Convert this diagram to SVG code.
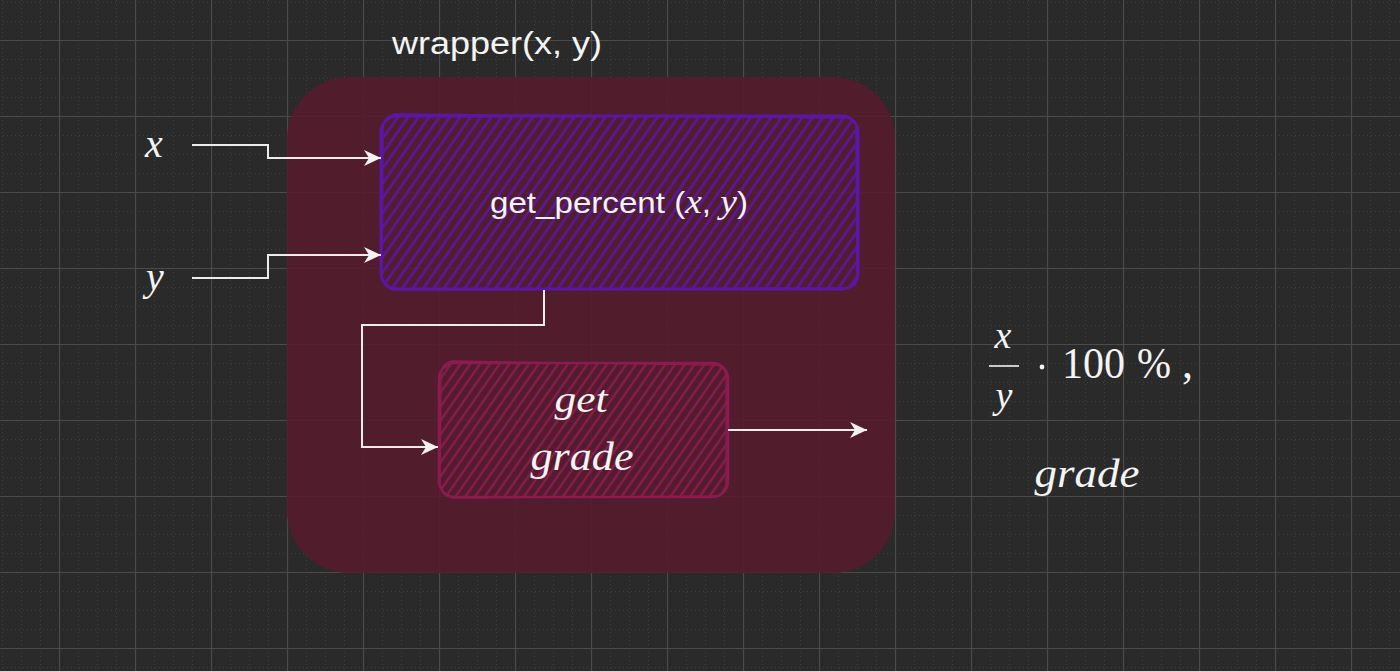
<svg xmlns="http://www.w3.org/2000/svg" width="1400" height="671" viewBox="0 0 1400 671">
  <defs>
    <pattern id="grid" x="59" y="40" width="76" height="76" patternUnits="userSpaceOnUse">
      <g stroke="#3f3f3f" stroke-width="1" stroke-dasharray="1 3" fill="none">
        <path d="M19.5,0 V76 M38.5,0 V76 M57.5,0 V76 M0,19.5 H76 M0,38.5 H76 M0,57.5 H76"/>
      </g>
      <path d="M0.5,0 V76 M0,0.5 H76" stroke="#4b4b4b" stroke-width="1.2" fill="none"/>
    </pattern>
    <pattern id="hatchPurple" width="8.5" height="8.5" patternUnits="userSpaceOnUse" patternTransform="rotate(35)">
      <line x1="2" y1="0" x2="2" y2="8.5" stroke="#5a16a3" stroke-width="2.6"/>
    </pattern>
    <pattern id="hatchCrimson" width="8" height="8" patternUnits="userSpaceOnUse" patternTransform="rotate(35)">
      <line x1="2" y1="0" x2="2" y2="8" stroke="#8a1a4f" stroke-width="2.4"/>
    </pattern>
    <marker id="arrow" markerUnits="userSpaceOnUse" markerWidth="20" markerHeight="18" refX="17" refY="8" orient="auto">
      <path d="M0,0 L17,8 L0,16 L5,8 Z" fill="#f2f2f2"/>
    </marker>
    <style>
      .conn { fill: none; stroke: #ececec; stroke-width: 2; }
      .sans { font-family: "Liberation Sans", Arial, sans-serif; fill: #f4f4f4; }
      .math { font-family: "Liberation Serif", "Times New Roman", serif; font-style: italic; fill: #f4f4f4; }
      .num { font-family: "Liberation Serif", "Times New Roman", serif; fill: #f4f4f4; }
    </style>
  </defs>

  <rect x="0" y="0" width="1400" height="671" fill="#2a2a2a"/>
  <rect x="0" y="0" width="1400" height="671" fill="url(#grid)"/>

  <g id="wrapper">
    <rect x="287" y="77" width="608" height="496" rx="62" ry="62" fill="#561a2b" fill-opacity="0.88"/>
    <text class="sans" x="497" y="54" font-size="31" text-anchor="middle" textLength="210" lengthAdjust="spacingAndGlyphs">wrapper(x, y)</text>
  </g>

  <g id="get_percent">
    <rect x="381" y="116" width="477" height="173" rx="16" ry="16" fill="url(#hatchPurple)"/>
    <rect x="381" y="116" width="477" height="173" rx="16" ry="16" fill="none" stroke="#5a17a6" stroke-width="3"/>
    <path d="M395,114 Q384,116 383,128 L382,276 Q384,290 396,290 L846,288 Q859,287 857,274 L856,128 Q856,117 844,118 L395,114" fill="none" stroke="#5a17a6" stroke-width="1.6"/>
    <text x="490" y="213" font-size="30" textLength="258" lengthAdjust="spacingAndGlyphs"><tspan class="sans">get_percent (</tspan><tspan class="math" font-size="34">x</tspan><tspan class="sans">, </tspan><tspan class="math" font-size="34">y</tspan><tspan class="sans">)</tspan></text>
  </g>

  <g id="get_grade">
    <rect x="439" y="363" width="289" height="134" rx="16" ry="16" fill="url(#hatchCrimson)"/>
    <rect x="439" y="363" width="289" height="134" rx="16" ry="16" fill="none" stroke="#8c1b50" stroke-width="2.6"/>
    <path d="M452,361 Q441,363 441,376 L440,484 Q441,497 454,498 L714,496 Q727,495 726,482 L726,376 Q725,364 712,365 L452,361" fill="none" stroke="#8c1b50" stroke-width="1.4"/>
    <text class="math" x="581" y="412" font-size="38" text-anchor="middle" textLength="53" lengthAdjust="spacingAndGlyphs">get</text>
    <text class="math" x="582" y="470" font-size="39" text-anchor="middle" textLength="103" lengthAdjust="spacingAndGlyphs">grade</text>
  </g>

  <g id="input_x">
    <text class="math" x="154" y="157" font-size="40" text-anchor="middle">x</text>
  </g>
  <g id="input_y">
    <text class="math" x="155" y="290" font-size="40" text-anchor="middle">y</text>
  </g>

  <g id="result">
    <text class="math" x="1003" y="348" font-size="38" text-anchor="middle">x</text>
    <line x1="989" y1="366" x2="1019" y2="366" stroke="#f4f4f4" stroke-width="1.6"/>
    <text class="math" x="1004" y="408" font-size="38" text-anchor="middle">y</text>
    <circle cx="1042" cy="367" r="2.4" fill="#f4f4f4"/>
    <text class="num" x="1062" y="378" font-size="44" textLength="63" lengthAdjust="spacingAndGlyphs">100</text>
    <text class="num" x="1137" y="378" font-size="44" textLength="34" lengthAdjust="spacingAndGlyphs">%</text>
    <text class="num" x="1182" y="378" font-size="44">,</text>
    <text class="math" x="1087" y="487" font-size="39" text-anchor="middle" textLength="105" lengthAdjust="spacingAndGlyphs">grade</text>
  </g>

  <g id="connectors">
    <path class="conn" d="M192,145 H268 V158 H381" marker-end="url(#arrow)"/>
    <path class="conn" d="M192,278 H268 V255 H381" marker-end="url(#arrow)"/>
    <path class="conn" d="M544,290 V325 H362 V447 H438" marker-end="url(#arrow)"/>
    <path class="conn" d="M728,430 H867" marker-end="url(#arrow)"/>
  </g>
</svg>
